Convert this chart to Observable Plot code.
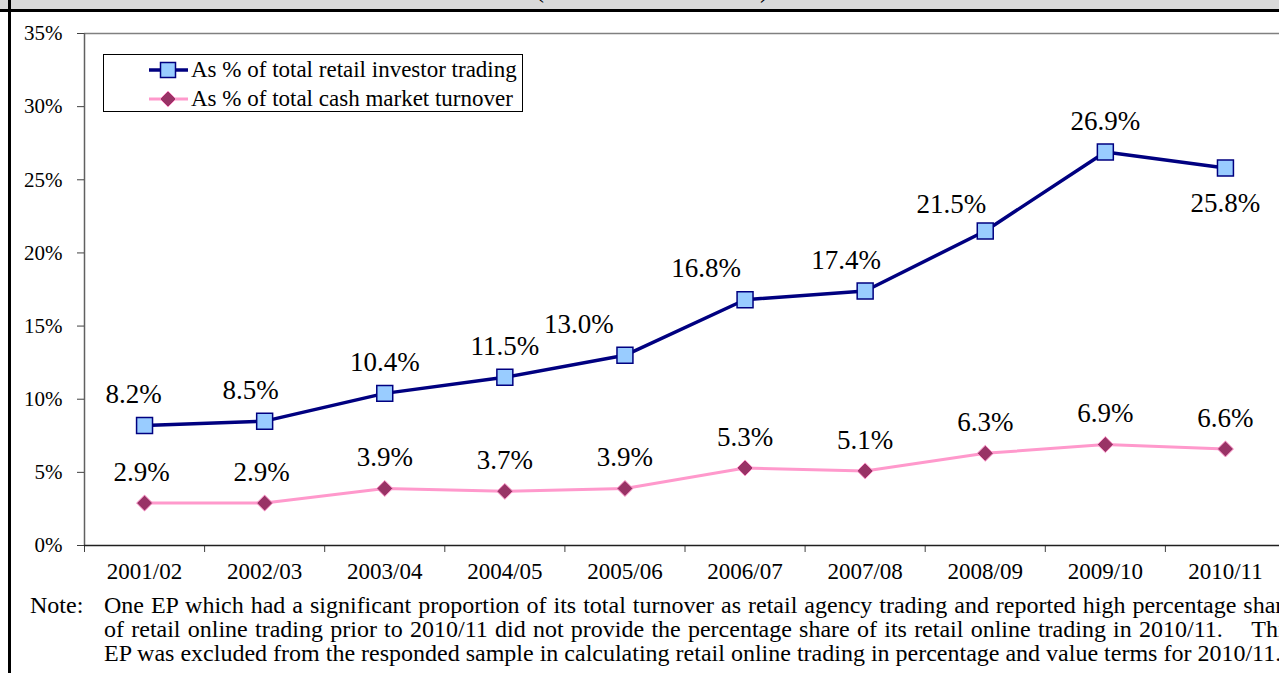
<!DOCTYPE html>
<html><head><meta charset="utf-8">
<script src="https://cdn.jsdelivr.net/npm/d3@7"></script>
<script src="https://cdn.jsdelivr.net/npm/@observablehq/plot@0.6"></script>
<style>
html,body{margin:0;padding:0;overflow:hidden;background:#fff;}
body{width:1279px;height:673px;position:relative;font-family:"Liberation Serif","Times New Roman",serif;color:#000;}
#band{position:absolute;left:0;top:0;width:1279px;height:9px;background:#d9d9d9;border-bottom:3px solid #000;overflow:hidden;}
#band span{position:absolute;top:-25px;font-size:27px;line-height:27px;}
#lbar{position:absolute;left:8px;top:0;width:3px;height:673px;background:#000;}
#chart{position:absolute;left:0;top:12px;width:1290px;}
#chart svg{max-width:none !important;}
#legend{position:absolute;left:103px;top:54px;width:418px;height:56px;border:1px solid #000;background:#fff;font-size:23px;}
#legend .row{position:absolute;left:87px;height:24px;line-height:24px;white-space:nowrap;}
#legend svg{position:absolute;left:-42px;top:0;}
#note{position:absolute;left:30px;top:593px;font-size:24px;line-height:24px;}
#note .lbl{position:absolute;left:0;top:0;}
#note .ln{position:absolute;left:74px;width:1190px;white-space:nowrap;}
#note .just{text-align:justify;text-align-last:justify;white-space:normal;}
</style>
</head><body>
<div id="band"><span style="left:535px">(</span><span style="left:760px">)</span></div>
<div id="lbar"></div>
<div id="chart"></div>
<div id="legend"></div>
<div id="note"></div>
<script>
// ---- data ----
const periods = ["2001/02","2002/03","2003/04","2004/05","2005/06","2006/07","2007/08","2008/09","2009/10","2010/11"];
const retailShare = [8.2, 8.5, 10.4, 11.5, 13.0, 16.8, 17.4, 21.5, 26.9, 25.8];
const cashShare = [2.9, 2.9, 3.9, 3.7, 3.9, 5.3, 5.1, 6.3, 6.9, 6.6];
const yTicks = [0, 5, 10, 15, 20, 25, 30, 35];
const seriesNames = ["As % of total retail investor trading", "As % of total cash market turnover"];
const noteLabel = "Note:";
const noteLines = [
  "One EP which had a significant proportion of its total turnover as retail agency trading and reported high percentage share",
  "of retail online trading prior to 2010/11 did not provide the percentage share of its retail online trading in 2010/11.\u00a0\u00a0\u00a0 This",
  "EP was excluded from the responded sample in calculating retail online trading in percentage and value terms for 2010/11."
];
// label nudges (layout only)
const retailLabelDx = [-11, -14, 0, 0, -46, -39, -19, -34, 0, 0];
const retailLabelDy = [-31, -31, -31, -31, -31, -31, -31, -27, -31, 35];
const cashLabelDx = [-3, -3, 0, 0, 0, 0, 0, 0, 0, 0];

const navy = "#000080", lightBlue = "#99ccff", pink = "#ff99cc", plum = "#993366";

const rows = periods.map((p, i) => ({i, period: p, retail: retailShare[i], cash: cashShare[i]}));
const xc = d => d.i + 0.5;
const fmt = v => v.toFixed(1) + "%";

const labelMarks = [];
rows.forEach((r, k) => {
  labelMarks.push(Plot.text([r], {x: xc, y: "retail", text: d => fmt(d.retail), fontSize: 27, dx: retailLabelDx[k], dy: retailLabelDy[k]}));
  labelMarks.push(Plot.text([r], {x: xc, y: "cash", text: d => fmt(d.cash), fontSize: 27, dx: cashLabelDx[k], dy: -31}));
});

const chart = Plot.plot({
  width: 1290,
  height: 590,
  marginTop: 21,
  marginLeft: 84,
  marginRight: 5,
  marginBottom: 57,
  style: {fontFamily: '"Liberation Serif","Times New Roman",serif', fontSize: "21px", color: "#000", background: "transparent", overflow: "visible", maxWidth: "none"},
  x: {domain: [0, periods.length], axis: null},
  y: {domain: [0, 35], axis: null},
  marks: [
    Plot.ruleY([35], {stroke: "#808080", strokeWidth: 1.5}),
    Plot.ruleX([0], {stroke: "#606060", strokeWidth: 1.5}),
    Plot.axisY({ticks: yTicks, tickFormat: d => d + "%", tickSize: 7, tickPadding: 15, fontSize: 21, stroke: "#404040"}),
    Plot.axisX({ticks: d3.range(periods.length + 1), tickFormat: () => "", tickSize: 7, stroke: "#404040"}),
    Plot.axisX({ticks: d3.range(periods.length).map(i => i + 0.5), tickFormat: v => periods[Math.floor(v)], tickSize: 0, tickPadding: 17, fontSize: 23}),
    Plot.ruleY([0], {stroke: "#202020", strokeWidth: 1.5}),
    Plot.line(rows, {x: xc, y: "cash", stroke: pink, strokeWidth: 3}),
    Plot.line(rows, {x: xc, y: "retail", stroke: navy, strokeWidth: 3.5}),
    Plot.dot(rows, {x: xc, y: "cash", symbol: "diamond2", r: 7.2, fill: plum, stroke: pink, strokeWidth: 1}),
    Plot.dot(rows, {x: xc, y: "retail", symbol: "square", r: 9, fill: lightBlue, stroke: navy, strokeWidth: 1.5}),
    ...labelMarks
  ]
});
document.getElementById("chart").appendChild(chart);

// legend
const legend = document.getElementById("legend");
const legendStyles = [
  {stroke: navy, sw: 3.5, shape: "square", fill: lightBlue, mstroke: navy},
  {stroke: pink, sw: 3, shape: "diamond", fill: plum, mstroke: pink}
];
const rowTops = [3, 32];
seriesNames.forEach((name, k) => {
  const s = legendStyles[k];
  const row = document.createElement("div");
  row.className = "row";
  row.style.top = rowTops[k] + "px";
  const marker = s.shape === "square"
    ? `<rect x="11.5" y="4.5" width="15" height="15" fill="${s.fill}" stroke="${s.mstroke}" stroke-width="1.5"/>`
    : `<path d="M19,4 L27,12 L19,20 L11,12 Z" fill="${s.fill}" stroke="${s.mstroke}" stroke-width="1"/>`;
  row.innerHTML = `<svg width="40" height="24"><line x1="0" x2="39" y1="12" y2="12" stroke="${s.stroke}" stroke-width="${s.sw}"/>${marker}</svg>`;
  row.appendChild(document.createTextNode(name));
  legend.appendChild(row);
});

// note
const note = document.getElementById("note");
const lbl = document.createElement("div");
lbl.className = "lbl"; lbl.textContent = noteLabel;
note.appendChild(lbl);
noteLines.forEach((t, k) => {
  const d = document.createElement("div");
  d.className = "ln" + (k < 2 ? " just" : "");
  d.style.top = (k * 24) + "px";
  d.textContent = t;
  note.appendChild(d);
});
</script>
</body></html>
